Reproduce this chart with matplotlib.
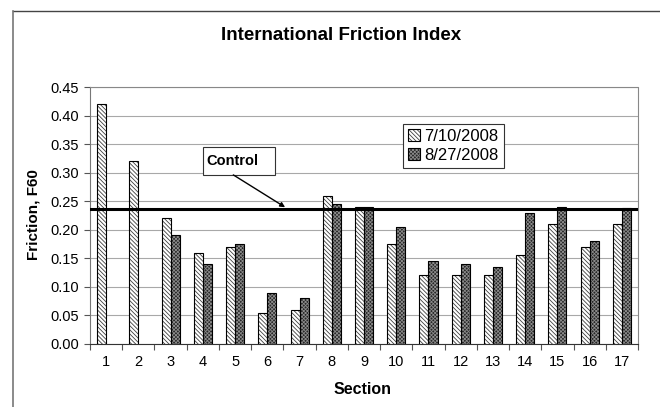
import numpy as np
import matplotlib
matplotlib.use("Agg")
import matplotlib.pyplot as plt
from matplotlib.patches import Rectangle
from matplotlib.lines import Line2D
from matplotlib.legend_handler import HandlerTuple

plt.rcParams['font.family'] = ['Liberation Sans', 'DejaVu Sans']
plt.rcParams['hatch.linewidth'] = 0.6

# F60 friction by test section, two survey dates
sections = list(range(1, 18))
f60_jul = [0.42, 0.32, 0.22, 0.16, 0.17, 0.055, 0.06, 0.26, 0.24, 0.175,
           0.12, 0.12, 0.12, 0.155, 0.21, 0.17, 0.21]
f60_aug = [None, None, 0.19, 0.14, 0.175, 0.09, 0.08, 0.245, 0.24, 0.205,
           0.145, 0.14, 0.135, 0.23, 0.24, 0.18, 0.238]
control_f60 = 0.236
labels = ["7/10/2008", "8/27/2008"]

fig = plt.figure(figsize=(6.6, 4.07), dpi=100)
ax = fig.add_axes([0.1364, 0.1548, 0.8303, 0.6314])

x = np.array(sections, dtype=float)
w = 0.28

# first date: white with fine diagonal hatching
a_fill = ax.bar(x - w / 2, f60_jul, w, color='white', edgecolor='#404040',
                linewidth=0, hatch='\\' * 8, zorder=3)
a_edge = ax.bar(x - w / 2, f60_jul, w, facecolor='none', edgecolor='black',
                linewidth=0.8, zorder=4)

# second date: dark speckled fill, sections 1-2 not measured
xb = [s + w / 2 for s, v in zip(sections, f60_aug) if v is not None]
vb = [v for v in f60_aug if v is not None]
b_fill = ax.bar(xb, vb, w, color='#262626', edgecolor='#8a8a8a',
                linewidth=0, hatch='x' * 9, zorder=3)
b_edge = ax.bar(xb, vb, w, facecolor='none', edgecolor='black',
                linewidth=0.8, zorder=4)

# control level
ax.axhline(control_f60, color='black', linewidth=2.2, zorder=5)

ax.set_xlim(0.5, 17.5)
ax.set_ylim(0, 0.45)
ax.set_yticks(np.arange(0, 0.451, 0.05))
ax.yaxis.set_major_formatter(plt.FormatStrFormatter('%.2f'))
ax.set_xticks(sections)
ax.set_xticks(np.arange(0.5, 17.6, 1.0), minor=True)
ax.tick_params(axis='x', which='major', length=0, pad=8, labelsize=10.5)
ax.tick_params(axis='x', which='minor', length=4, width=0.8, color='#555555')
ax.tick_params(axis='y', length=4, width=0.8, pad=4, labelsize=10.5,
               color='#555555')

ax.yaxis.grid(True, color='#a8a8a8', linewidth=0.8, zorder=0)
ax.set_axisbelow(True)

for side in ('top', 'right'):
    ax.spines[side].set_linestyle((0, (1, 1)))
    ax.spines[side].set_color('#888888')
    ax.spines[side].set_linewidth(0.8)
ax.spines['left'].set_color('#777777')
ax.spines['left'].set_linewidth(0.8)
ax.spines['bottom'].set_color('#333333')
ax.spines['bottom'].set_linewidth(0.8)

ax.set_xlabel('Section', fontsize=11.5, fontweight='bold', va='center')
ax.xaxis.set_label_coords(0.498, -0.179)
ax.set_ylabel('Friction, F60', fontsize=11, fontweight='bold', va='center')
ax.yaxis.set_label_coords(-0.104, 0.502)

leg = ax.legend([(a_fill, a_edge), (b_fill, b_edge)], labels,
                handler_map={tuple: HandlerTuple(ndivide=1)},
                loc='upper left', bbox_to_anchor=(0.571, 0.857),
                borderaxespad=0, fontsize=12, frameon=True, fancybox=False,
                framealpha=1, edgecolor='#333333', handlelength=0.7,
                handleheight=0.7, handletextpad=0.3, borderpad=0.3,
                labelspacing=0.25)
leg.get_frame().set_linewidth(0.8)
leg.set_zorder(6)

# "Control" callout box and pointer
ax.add_patch(Rectangle((0.2057, 0.658), 0.132, 0.107, transform=ax.transAxes,
                       facecolor='white', edgecolor='#333333', linewidth=0.8,
                       zorder=6, clip_on=False))
ax.text(0.212, 0.713, 'Control', transform=ax.transAxes, fontsize=10.5,
        fontweight='bold', ha='left', va='center', zorder=7)
ax.annotate('', xy=(0.356, 0.2395), xycoords=('axes fraction', 'data'),
            xytext=(0.2615, 0.658), textcoords='axes fraction',
            arrowprops=dict(arrowstyle='-|>', color='black', lw=1,
                            mutation_scale=7, shrinkA=0, shrinkB=0),
            zorder=7)

fig.text(0.5167, 1 - 35 / 407, 'International Friction Index', fontsize=13.5,
         fontweight='bold', ha='center', va='center')

# outer chart frame (top and left edges)
fig.add_artist(Line2D([12.5 / 660, 1.0], [1 - 11 / 407, 1 - 11 / 407],
                      transform=fig.transFigure, color='#444444', linewidth=1))
fig.add_artist(Line2D([12.5 / 660, 12.5 / 660], [0.0, 1 - 11 / 407],
                      transform=fig.transFigure, color='#777777', linewidth=1.2))

fig.savefig('out.png', dpi=100)
